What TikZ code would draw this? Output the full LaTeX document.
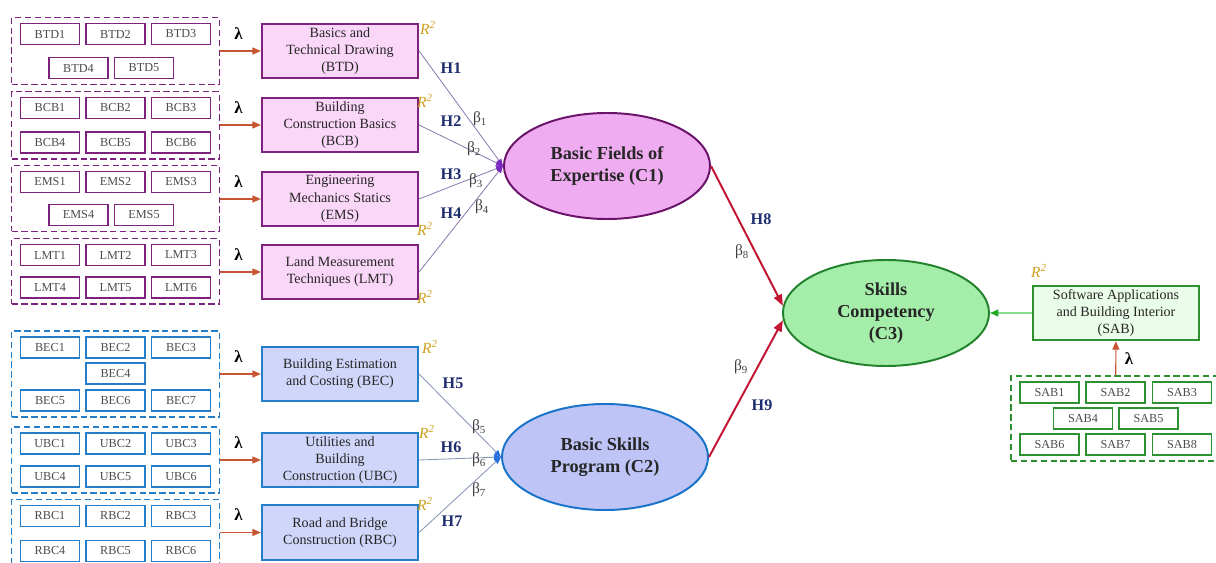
\documentclass[tikz,border=0pt]{standalone}
\usepackage{fontspec}
\setmainfont{Liberation Serif}
\usepackage{xcolor}
\usetikzlibrary{arrows.meta,positioning,fit,shapes.geometric}

\definecolor{pbord}{RGB}{125,35,125}
\definecolor{pfill}{RGB}{250,214,248}
\definecolor{c1bord}{RGB}{105,20,105}
\definecolor{c1fill}{RGB}{240,172,240}
\definecolor{bbord}{RGB}{35,125,200}
\definecolor{bfill}{RGB}{208,214,250}
\definecolor{c2bord}{RGB}{25,115,200}
\definecolor{c2fill}{RGB}{190,196,246}
\definecolor{gbord}{RGB}{45,145,50}
\definecolor{gfill}{RGB}{234,252,234}
\definecolor{c3bord}{RGB}{35,130,45}
\definecolor{c3fill}{RGB}{165,238,170}
\definecolor{lamc}{RGB}{200,85,50}
\definecolor{hcol}{RGB}{30,45,110}
\definecolor{rcol}{RGB}{205,160,30}
\definecolor{redc}{RGB}{195,20,50}
\definecolor{plin}{RGB}{140,125,175}
\definecolor{ptip}{RGB}{120,40,190}
\definecolor{blin}{RGB}{135,150,180}
\definecolor{btip}{RGB}{40,110,220}

\begin{document}
\begin{tikzpicture}[
  x=0.025cm, y=-0.025cm,
  ind/.style={draw=#1, fill=white, line width=1.1pt, minimum width=1.48cm, minimum height=0.52cm, inner sep=0pt, font=\fontsize{8.7}{10}\selectfont, text=black!70},
  grp/.style={draw=#1, line width=1.1pt, dash pattern=on 4.5pt off 2.5pt, inner xsep=0.2cm, inner ysep=0.13cm},
  con/.style={draw=#1, line width=1.5pt, minimum width=3.9cm, minimum height=1.36cm, inner sep=1pt, align=center, text=black!85, font=\fontsize{10}{12.2}\selectfont},
  lv/.style={ellipse, draw=#1, line width=1.4pt, minimum width=5.15cm, minimum height=2.65cm, inner sep=0pt, align=center, text=black!85, font=\fontsize{13}{15.5}\selectfont\bfseries},
  lam/.style={-{Triangle[length=6pt,width=5pt]}, draw=lamc, line width=0.8pt},
  lamlab/.style={font=\fontsize{12}{13}\selectfont\bfseries, inner sep=1pt},
  pth/.style={-{Triangle[length=5pt,width=4pt,color=#1]}, line width=0.6pt},
  redarr/.style={-{Triangle[length=8pt,width=6pt]}, draw=redc, line width=1.4pt},
  sabarr/.style={-{Triangle[length=6pt,width=5pt,color=gbord!80!green]}, draw=green!55!gray!60, line width=0.8pt},
  hyp/.style={font=\fontsize{11.5}{13}\selectfont\bfseries, text=hcol},
  bet/.style={font=\fontsize{11}{13}\selectfont, text=black!75},
  rsq/.style={font=\fontsize{11}{13}\selectfont\itshape, text=rcol}
]
\useasboundingbox (0,0) rectangle (1216,563);

% --- Indicadores BTD ---
\node[ind=pbord] (btd1) at (50,34) {BTD1};
\node[ind=pbord] (btd2) at (115.5,34) {BTD2};
\node[ind=pbord] (btd3) at (181,34) {BTD3};
\node[ind=pbord] (btd4) at (78.5,68) {BTD4};
\node[ind=pbord] (btd5) at (144,68) {BTD5};
\node[grp=pbord, fit=(btd1)(btd3)(btd4)] (btdg) {};

% --- Indicadores BCB ---
\node[ind=pbord] (bcb1) at (50,108) {BCB1};
\node[ind=pbord] (bcb2) at (115.5,108) {BCB2};
\node[ind=pbord] (bcb3) at (181,108) {BCB3};
\node[ind=pbord] (bcb4) at (50,142.5) {BCB4};
\node[ind=pbord] (bcb5) at (115.5,142.5) {BCB5};
\node[ind=pbord] (bcb6) at (181,142.5) {BCB6};
\node[grp=pbord, fit=(bcb1)(bcb6)] (bcbg) {};

% --- Indicadores EMS ---
\node[ind=pbord] (ems1) at (50,182) {EMS1};
\node[ind=pbord] (ems2) at (115.5,182) {EMS2};
\node[ind=pbord] (ems3) at (181,182) {EMS3};
\node[ind=pbord] (ems4) at (78.5,215) {EMS4};
\node[ind=pbord] (ems5) at (144,215) {EMS5};
\node[grp=pbord, fit=(ems1)(ems3)(ems4)] (emsg) {};

% --- Indicadores LMT ---
\node[ind=pbord] (lmt1) at (50,255) {LMT1};
\node[ind=pbord] (lmt2) at (115.5,255) {LMT2};
\node[ind=pbord] (lmt3) at (181,255) {LMT3};
\node[ind=pbord] (lmt4) at (50,287.5) {LMT4};
\node[ind=pbord] (lmt5) at (115.5,287.5) {LMT5};
\node[ind=pbord] (lmt6) at (181,287.5) {LMT6};
\node[grp=pbord, fit=(lmt1)(lmt6)] (lmtg) {};

% --- Indicadores BEC ---
\node[ind=bbord] (bec1) at (50,347.5) {BEC1};
\node[ind=bbord] (bec2) at (115.5,347.5) {BEC2};
\node[ind=bbord] (bec3) at (181,347.5) {BEC3};
\node[ind=bbord] (bec4) at (115.5,373.5) {BEC4};
\node[ind=bbord] (bec5) at (50,400.5) {BEC5};
\node[ind=bbord] (bec6) at (115.5,400.5) {BEC6};
\node[ind=bbord] (bec7) at (181,400.5) {BEC7};
\node[grp=bbord, fit=(bec1)(bec7)] (becg) {};

% --- Indicadores UBC ---
\node[ind=bbord] (ubc1) at (50,443.5) {UBC1};
\node[ind=bbord] (ubc2) at (115.5,443.5) {UBC2};
\node[ind=bbord] (ubc3) at (181,443.5) {UBC3};
\node[ind=bbord] (ubc4) at (50,476.5) {UBC4};
\node[ind=bbord] (ubc5) at (115.5,476.5) {UBC5};
\node[ind=bbord] (ubc6) at (181,476.5) {UBC6};
\node[grp=bbord, fit=(ubc1)(ubc6)] (ubcg) {};

% --- Indicadores RBC ---
\node[ind=bbord] (rbc1) at (50,516) {RBC1};
\node[ind=bbord] (rbc2) at (115.5,516) {RBC2};
\node[ind=bbord] (rbc3) at (181,516) {RBC3};
\node[ind=bbord] (rbc4) at (50,551) {RBC4};
\node[ind=bbord] (rbc5) at (115.5,551) {RBC5};
\node[ind=bbord] (rbc6) at (181,551) {RBC6};
\node[grp=bbord, fit=(rbc1)(rbc6)] (rbcg) {};

% --- Indicadores SAB ---
\node[ind=gbord] (sab1) at (1049.5,392.5) {SAB1};
\node[ind=gbord] (sab2) at (1115.5,392.5) {SAB2};
\node[ind=gbord] (sab3) at (1182,392.5) {SAB3};
\node[ind=gbord] (sab4) at (1083,418.5) {SAB4};
\node[ind=gbord] (sab5) at (1148.5,418.5) {SAB5};
\node[ind=gbord] (sab6) at (1049.5,444.5) {SAB6};
\node[ind=gbord] (sab7) at (1115.5,444.5) {SAB7};
\node[ind=gbord] (sab8) at (1182,444.5) {SAB8};
\node[grp=gbord, fit=(sab1)(sab8)] (sabg) {};

% --- Constructos ---
\node[con=pbord, fill=pfill] (btd) at (340,51) {Basics and\\Technical Drawing\\(BTD)};
\node[con=pbord, fill=pfill] (bcb) at (340,125) {Building\\Construction Basics\\(BCB)};
\node[con=pbord, fill=pfill] (ems) at (340,199) {Engineering\\Mechanics Statics\\(EMS)};
\node[con=pbord, fill=pfill] (lmt) at (340,272) {Land Measurement\\Techniques (LMT)};
\node[con=bbord, fill=bfill] (bec) at (340,374) {Building Estimation\\and Costing (BEC)};
\node[con=bbord, fill=bfill] (ubc) at (340,460) {Utilities and\\Building\\Construction (UBC)};
\node[con=bbord, fill=bfill] (rbc) at (340,532.5) {Road and Bridge\\Construction (RBC)};
\node[con=gbord, fill=gfill, minimum width=4.15cm] (sab) at (1116,313) {Software Applications\\and Building Interior\\(SAB)};

% Variables latentes
\node[lv=c1bord, fill=c1fill] (c1) at (607,166) {Basic Fields of\\Expertise (C1)};
\node[lv=c2bord, fill=c2fill] (c2) at (605,457) {Basic Skills\\Program (C2)};
\node[lv=c3bord, fill=c3fill] (c3) at (886,313) {Skills\\Competency\\(C3)};

% Cargas (lambda)
\draw[lam] (btdg.east |- btd) -- (btd) node[lamlab, pos=0.45, above=7pt] {λ};
\draw[lam] (bcbg.east |- bcb) -- (bcb) node[lamlab, pos=0.45, above=7pt] {λ};
\draw[lam] (emsg.east |- ems) -- (ems) node[lamlab, pos=0.45, above=7pt] {λ};
\draw[lam] (lmtg.east |- lmt) -- (lmt) node[lamlab, pos=0.45, above=7pt] {λ};
\draw[lam] (becg.east |- bec) -- (bec) node[lamlab, pos=0.45, above=7pt] {λ};
\draw[lam] (ubcg.east |- ubc) -- (ubc) node[lamlab, pos=0.45, above=7pt] {λ};
\draw[lam] (rbcg.east |- rbc) -- (rbc) node[lamlab, pos=0.45, above=7pt] {λ};
\draw[lam] (sabg.north) -- (sab) node[lamlab, pos=0.5, right=5pt] {λ};

% Caminos hacia C1 y C2
\draw[pth=ptip, draw=plin] (btd.east) -- (c1.west);
\draw[pth=ptip, draw=plin] (bcb.east) -- (c1.west);
\draw[pth=ptip, draw=plin] (ems.east) -- (c1.west);
\draw[pth=ptip, draw=plin] (lmt.east) -- (c1.west);
\draw[pth=btip, draw=blin] (bec.east) -- (c2.west);
\draw[pth=btip, draw=blin] (ubc.east) -- (c2.west);
\draw[pth=btip, draw=blin] (rbc.east) -- (c2.west);

% Caminos hacia C3
\draw[redarr] (c1.east) -- (c3.176);
\draw[redarr] (c2.east) -- (c3.184);
\draw[sabarr] (sab) -- (c3);

% Hipotesis y coeficientes
\node[hyp] (h1) at (451,68) {H1};
\node[hyp] (h2) at (451,121) {H2};
\node[hyp] (h3) at (451,174) {H3};
\node[hyp] (h4) at (451,213) {H4};
\node[hyp] (h5) at (453,383) {H5};
\node[hyp] (h6) at (451,447) {H6};
\node[hyp] (h7) at (452,521) {H7};
\node[hyp] (h8) at (761,219) {H8};
\node[hyp] (h9) at (762,405) {H9};
\node[bet] (b1) at (480,119) {β\textsubscript{1}};
\node[bet] (b2) at (474,149) {β\textsubscript{2}};
\node[bet] (b3) at (476,181) {β\textsubscript{3}};
\node[bet] (b4) at (482,207) {β\textsubscript{4}};
\node[bet] (b5) at (479,427) {β\textsubscript{5}};
\node[bet] (b6) at (479,460) {β\textsubscript{6}};
\node[bet] (b7) at (479,490) {β\textsubscript{7}};
\node[bet] (b8) at (742,252) {β\textsubscript{8}};
\node[bet] (b9) at (741,367) {β\textsubscript{9}};

% R cuadrado
\node[rsq] (r1) at (428,28) {R\textsuperscript{2}};
\node[rsq] (r2) at (425,101) {R\textsuperscript{2}};
\node[rsq] (r3) at (425,229) {R\textsuperscript{2}};
\node[rsq] (r4) at (425,297) {R\textsuperscript{2}};
\node[rsq] (r5) at (430,347) {R\textsuperscript{2}};
\node[rsq] (r6) at (427,432) {R\textsuperscript{2}};
\node[rsq] (r7) at (425,504) {R\textsuperscript{2}};
\node[rsq] (r8) at (1039,271) {R\textsuperscript{2}};
\end{tikzpicture}
\end{document}
